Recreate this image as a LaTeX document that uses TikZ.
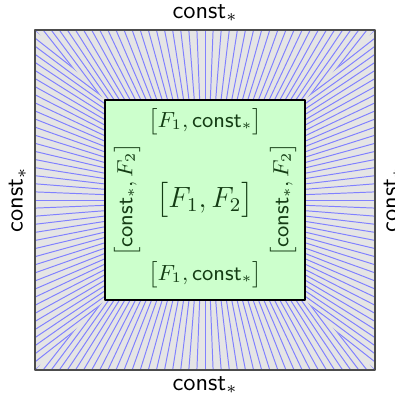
\documentclass[tikz,border=0pt]{standalone}
\usepackage{amsmath}
\definecolor{boxgreen}{RGB}{204,255,204}
\definecolor{txtgreen}{RGB}{20,60,20}

\begin{document}
\begin{tikzpicture}[x=0.41pt,y=0.41pt,line cap=round,line join=round,
  spoke/.style={blue!50,line width=0.4pt},
  outlbl/.style={font=\normalsize,inner sep=0pt},
  inlbl/.style={font=\small,text=txtgreen,inner sep=0pt}]
\useasboundingbox (-205,-196) rectangle (189,200);
% outer region with the radial lines, one trapezoid per side
\fill[black!10] (-170,-170) rectangle (170,170);
\foreach \r in {0,90,180,270}{
  \begin{scope}[rotate=\r]
    \clip (-170,170) -- (170,170) -- (100,100) -- (-100,100) -- cycle;
    \foreach \i in {0,...,42}{
      \pgfmathsetmacro\o{-170+340*\i/42}
      \draw[spoke] ({0.66*\o},100) -- (\o,170);
    }
  \end{scope}
}
\draw[black!70,line width=0.5pt] (-170,-170) rectangle (170,170);
% inner square
\draw[fill=boxgreen,line width=0.5pt] (-100,-100) rectangle (100,100);
\node[inlbl,font=\large] (mid) at (0,0) {$\bigl[F_1,F_2\bigr]$};
\node[inlbl] (intop) at (0,78) {$\bigl[F_1,\mathsf{const}_*\bigr]$};
\node[inlbl] (inbot) at (0,-75) {$\bigl[F_1,\mathsf{const}_*\bigr]$};
\node[inlbl,rotate=90] (inleft) at (-78,0) {$\bigl[\mathsf{const}_*,F_2\bigr]$};
\node[inlbl,rotate=90] (inright) at (78,0) {$\bigl[\mathsf{const}_*,F_2\bigr]$};
% labels outside
\node[outlbl] (top) at (0,187) {$\mathsf{const}_*$};
\node[outlbl] (bot) at (0,-185) {$\mathsf{const}_*$};
\node[outlbl,rotate=90] (left) at (-187.5,0) {$\mathsf{const}_*$};
\node[outlbl,rotate=90] (right) at (187.5,0) {$\mathsf{const}_*$};
\end{tikzpicture}
\end{document}
